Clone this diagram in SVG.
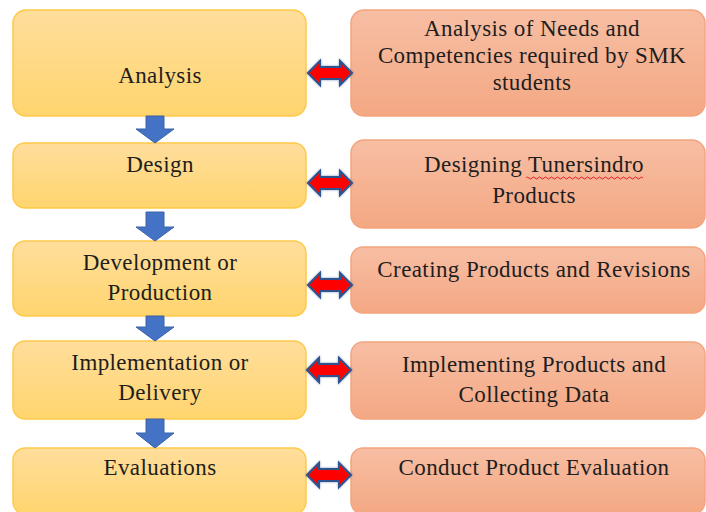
<svg xmlns="http://www.w3.org/2000/svg" width="706" height="512" viewBox="0 0 706 512">
<defs>
<linearGradient id="gy" x1="0" y1="0" x2="0" y2="1">
<stop offset="0" stop-color="#FFDE9C"/>
<stop offset="1" stop-color="#FFD56E"/>
</linearGradient>
<linearGradient id="go" x1="0" y1="0" x2="0" y2="1">
<stop offset="0" stop-color="#F7BEA4"/>
<stop offset="1" stop-color="#F4A883"/>
</linearGradient>
<filter id="glow" x="-20%" y="-40%" width="140%" height="180%">
<feGaussianBlur in="SourceAlpha" stdDeviation="1.2" result="b"/>
<feFlood flood-color="#2F528F" flood-opacity="0.6"/>
<feComposite in2="b" operator="in" result="s"/>
<feMerge><feMergeNode in="s"/><feMergeNode in="SourceGraphic"/></feMerge>
</filter>
</defs>
<style>
.l{fill:url(#gy);stroke:#FFC94A;stroke-width:1.5}
.r{fill:url(#go);stroke:#F4A47E;stroke-width:1.5}
text{font-family:"Liberation Serif","Times New Roman",serif;font-size:23px;letter-spacing:0.4px;fill:#1e1e1e;text-anchor:middle}
.down{fill:#4472C4;stroke:#3A62A8;stroke-width:1}
.dbl{fill:#FF0000;stroke:#2F528F;stroke-width:2;stroke-linejoin:miter;filter:url(#glow)}
</style>
<rect width="706" height="512" fill="#FFFFFF"/>
<g id="analysis"><rect class="l" x="13" y="10" width="293" height="106" rx="13"/><text x="160" y="83">Analysis</text></g>
<g id="design"><rect class="l" x="13" y="143" width="293" height="65" rx="12"/><text x="160" y="172">Design</text></g>
<g id="development"><rect class="l" x="13" y="241" width="293" height="75" rx="12"/><text x="160" y="270">Development or</text><text x="160" y="300">Production</text></g>
<g id="implementation"><rect class="l" x="13" y="341" width="293" height="78" rx="12"/><text x="160" y="370">Implementation or</text><text x="160" y="400">Delivery</text></g>
<g id="evaluations"><rect class="l" x="13" y="448" width="293" height="66" rx="12"/><text x="160" y="475">Evaluations</text></g>
<g id="needs"><rect class="r" x="351" y="10" width="354" height="106" rx="13"/><text x="532" y="36">Analysis of Needs and</text><text x="532" y="63">Competencies required by SMK</text><text x="532" y="90">students</text></g>
<g id="designing"><rect class="r" x="351" y="140" width="354" height="88" rx="13"/><text x="534" y="172">Designing Tunersindro</text><text x="534" y="203">Products</text><path d="M526,178 q1.5,-2 3,0 t3,0 t3,0 t3,0 t3,0 t3,0 t3,0 t3,0 t3,0 t3,0 t3,0 t3,0 t3,0 t3,0 t3,0 t3,0 t3,0 t3,0 t3,0 t3,0 t3,0 t3,0 t3,0 t3,0 t3,0 t3,0 t3,0 t3,0 t3,0 t3,0 t3,0 t3,0 t3,0 t3,0 t3,0 t3,0 t3,0 t3,0 t3,0" fill="none" stroke="#E02020" stroke-width="1"/></g>
<g id="creating"><rect class="r" x="351" y="247" width="354" height="66" rx="12"/><text x="534" y="277">Creating Products and Revisions</text></g>
<g id="implementing"><rect class="r" x="351" y="342" width="354" height="77" rx="12"/><text x="534" y="372">Implementing Products and</text><text x="534" y="402">Collecting Data</text></g>
<g id="conduct"><rect class="r" x="351" y="448" width="354" height="66" rx="12"/><text x="534" y="475">Conduct Product Evaluation</text></g>
<g id="connectors">
<path class="down" d="M146,116 H164 V129 H174 L155,143 L136,129 H146 Z"/>
<path class="down" d="M146,212 H164 V227 H174 L155,241 L136,227 H146 Z"/>
<path class="down" d="M146,316 H164 V327 H174 L155,341 L136,327 H146 Z"/>
<path class="down" d="M146,419 H164 V433 H174 L155,448 L136,433 H146 Z"/>
<path class="dbl" d="M308,73 L320,61 L320,67 L340,67 L340,61 L352,73 L340,85 L340,79 L320,79 L320,85 Z"/>
<path class="dbl" d="M308,183 L320,171 L320,177 L340,177 L340,171 L352,183 L340,195 L340,189 L320,189 L320,195 Z"/>
<path class="dbl" d="M308,285 L320,273 L320,279 L340,279 L340,273 L352,285 L340,297 L340,291 L320,291 L320,297 Z"/>
<path class="dbl" d="M307,370 L319,358 L319,364 L339,364 L339,358 L351,370 L339,382 L339,376 L319,376 L319,382 Z"/>
<path class="dbl" d="M307,475 L319,463 L319,469 L339,469 L339,463 L351,475 L339,487 L339,481 L319,481 L319,487 Z"/>
</g>
</svg>
